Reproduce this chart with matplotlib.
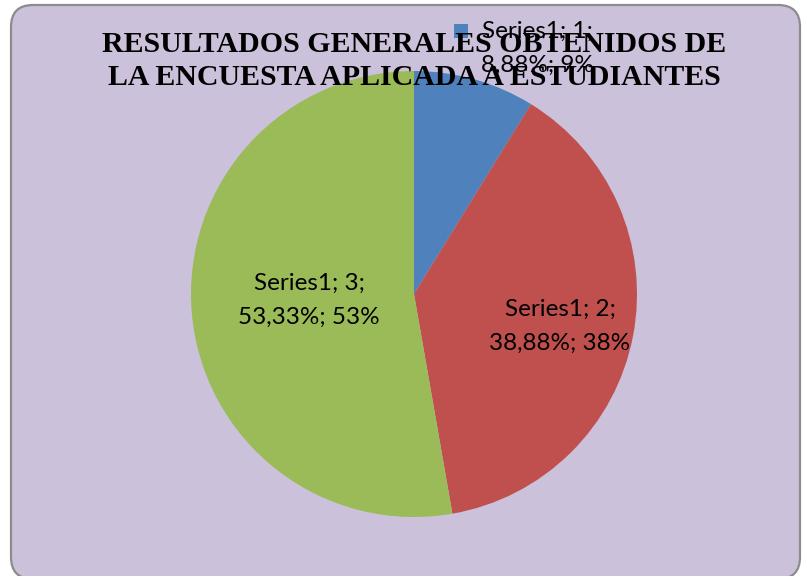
import matplotlib
matplotlib.use("Agg")
import matplotlib.pyplot as plt
from matplotlib.patches import FancyBboxPatch, Rectangle

# data
categories = [1, 2, 3]
values = [8.88, 38.88, 53.33]
rounded_pct = [9, 38, 53]
series_name = "Series1"
colors = ["#4F81BD", "#C0504D", "#9BBB59"]
title = "RESULTADOS GENERALES OBTENIDOS DE\nLA ENCUESTA APLICADA A ESTUDIANTES"

W, H = 804, 576
fig = plt.figure(figsize=(W / 100, H / 100), dpi=100, facecolor="white")

# background frame (pixel coords, y down)
bg = fig.add_axes([0, 0, 1, 1])
bg.set_xlim(0, W)
bg.set_ylim(H, 0)
bg.axis("off")
bg.add_patch(FancyBboxPatch((11, 5), 789, 574, boxstyle="round,pad=0,rounding_size=22",
                            facecolor="#CCC1DA", edgecolor="#8C8C8C", linewidth=1.6))

# pie axes: centre (414, 294) px, radius 223 px
cx, cy, r = 414, 294, 223
ax = fig.add_axes([(cx - r) / W, (H - cy - r) / H, 2 * r / W, 2 * r / H])
ax.pie(values, colors=colors, startangle=90, counterclock=False, radius=1,
       wedgeprops=dict(linewidth=0))
ax.set_xlim(-1, 1)
ax.set_ylim(-1, 1)
ax.axis("off")

# overlay for texts
top = fig.add_axes([0, 0, 1, 1])
top.set_xlim(0, W)
top.set_ylim(H, 0)
top.axis("off")
top.patch.set_alpha(0)

labels = [f"{series_name}; {c};\n{v:.2f}%; {p}%".replace(".", ",")
          for c, v, p in zip(categories, values, rounded_pct)]

# data labels (drawn under the title)
label_pos = [(537, 48), (560, 326), (309, 300)]
for lab, (x, y) in zip(labels, label_pos):
    top.text(x, y, lab, ha="center", va="center", fontsize=17.5, family="Lato",
             linespacing=1.75, color="black", zorder=3)
# legend key of the first label
top.add_patch(Rectangle((454, 24), 14, 14, facecolor=colors[0], edgecolor="none", zorder=3))

# title
top.text(414, 61, title, ha="center", va="center", fontsize=21.5, fontweight="bold",
         family="Liberation Serif", linespacing=1.3, color="black", zorder=6)

fig.savefig("out.png", dpi=100, facecolor="white")
